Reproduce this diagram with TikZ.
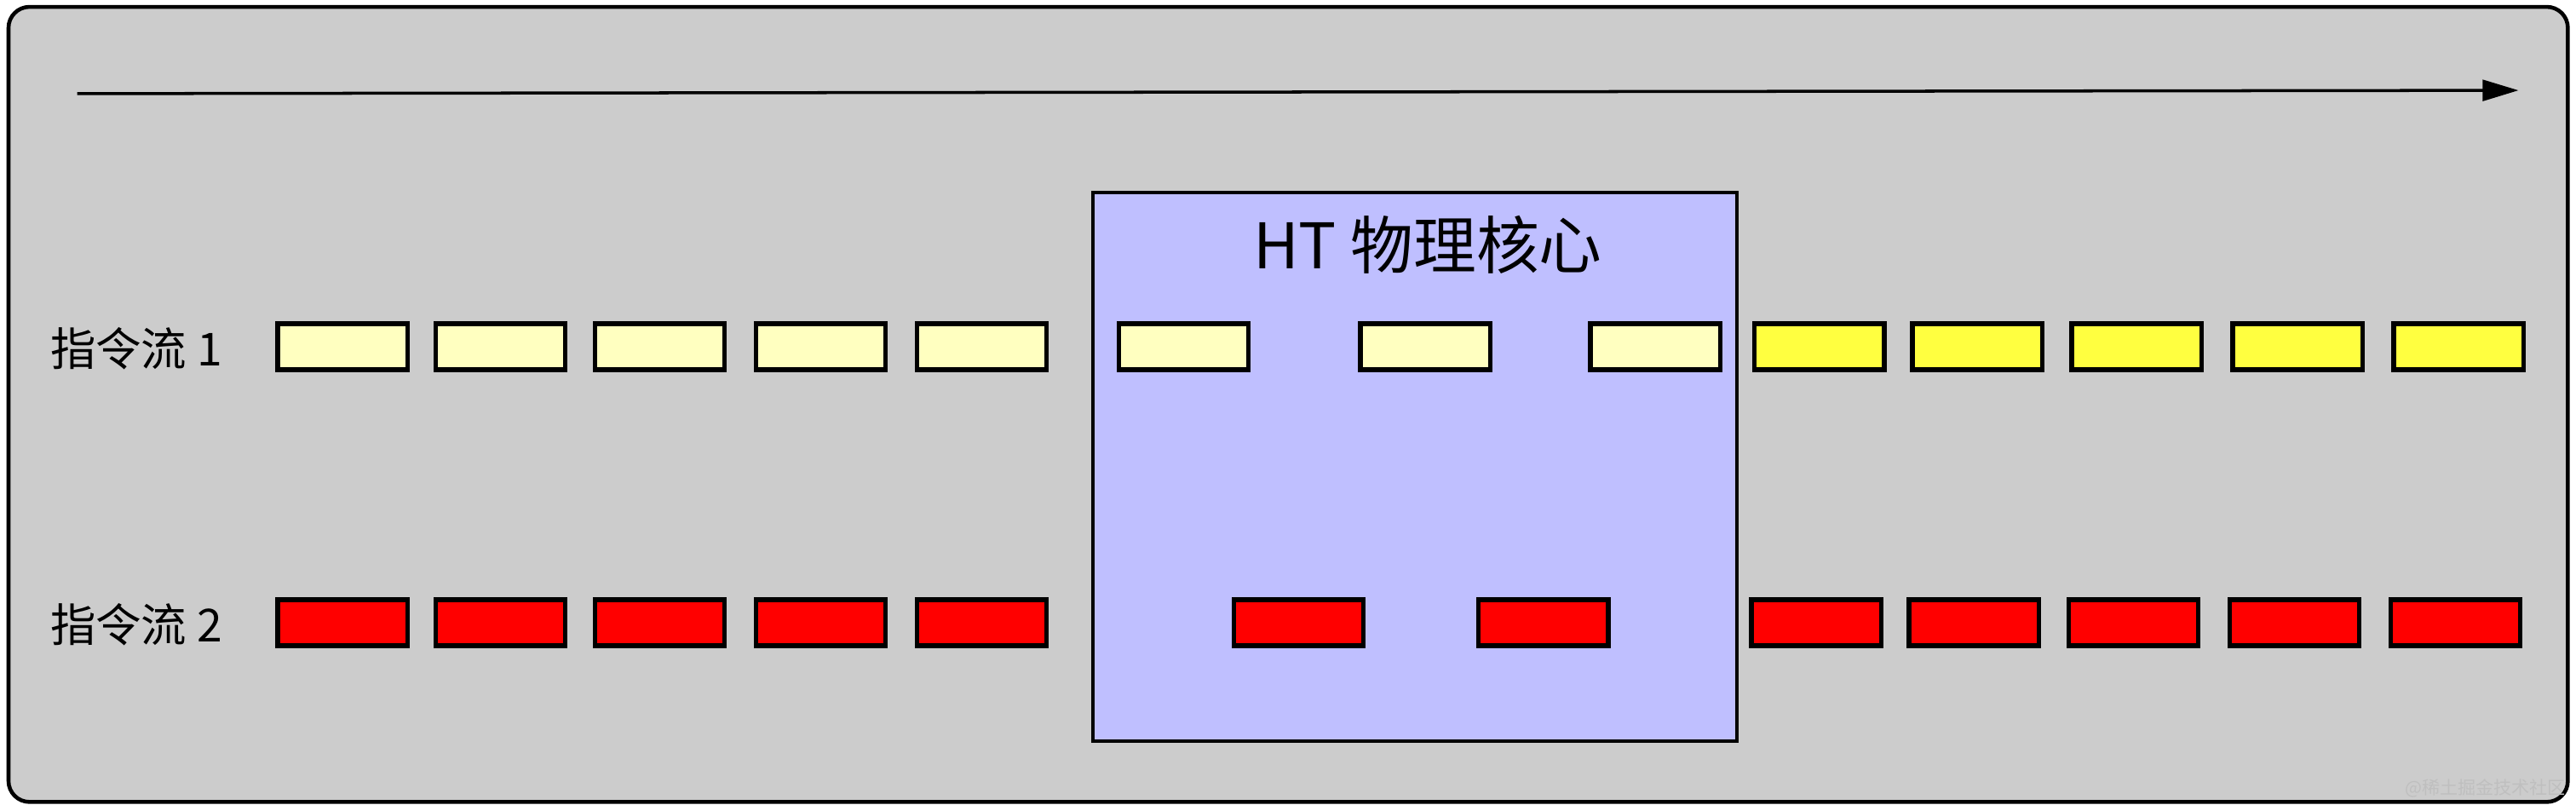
\documentclass[tikz,border=0pt]{standalone}
\usepackage{fontspec}
\setmainfont{Noto Sans CJK SC}
\usetikzlibrary{arrows.meta}
\definecolor{bggray}{HTML}{CCCCCC}
\definecolor{coreblue}{HTML}{BFBFFF}
\definecolor{paleyel}{HTML}{FFFFC0}
\definecolor{brightyel}{HTML}{FFFF40}
\definecolor{instred}{HTML}{FF0000}
\tikzset{
  instbox/.style={draw=black, line width=1.5pt, minimum width=43.3pt, minimum height=15.4pt, inner sep=0pt, outer sep=0pt},
  pale/.style={instbox, fill=paleyel},
  bright/.style={instbox, fill=brightyel},
  redbox/.style={instbox, fill=instred},
  lbl/.style={font=\fontsize{15.2pt}{18pt}\selectfont, inner sep=0pt},
}
\begin{document}
\begin{tikzpicture}[x=0.019286cm, y=-0.019286cm]
\useasboundingbox (0,0) rectangle (1568,490);
\node[draw=black, line width=1.3pt, fill=bggray, rounded corners=7pt, minimum width=(1558*0.5487pt), minimum height=(484*0.5487pt), inner sep=0pt, anchor=north west] (frame) at (4,3) {};
\coordinate (as) at (47,57);
\coordinate (ae) at (1533,55);
\draw[line width=1pt, -{Triangle[length=12pt, width=7pt]}] (as) -- (ae);
\node[draw=black, line width=1.3pt, fill=coreblue, minimum width=(392*0.5487pt), minimum height=(334*0.5487pt), inner sep=0pt, anchor=north west] (core) at (664,116) {};
\node[font=\fontsize{21pt}{25pt}\selectfont, inner sep=0pt] (title) at (869,149) {HT 物理核心};
\node[lbl] (l1) at (83,212) {指令流 1};
\node[lbl] (l2) at (83,380) {指令流 2};
% row 1
\node[pale] (a1) at (208.5,211) {};
\node[pale] (a2) at (304.5,211) {};
\node[pale] (a3) at (401.5,211) {};
\node[pale] (a4) at (499.5,211) {};
\node[pale] (a5) at (597.5,211) {};
\node[pale] (a6) at (720.5,211) {};
\node[pale] (a7) at (867.5,211) {};
\node[pale] (a8) at (1007.5,211) {};
\node[bright] (a9) at (1107.5,211) {};
\node[bright] (a10) at (1203.5,211) {};
\node[bright] (a11) at (1300.5,211) {};
\node[bright] (a12) at (1398.5,211) {};
\node[bright] (a13) at (1496.5,211) {};
% row 2
\node[redbox] (b1) at (208.5,379) {};
\node[redbox] (b2) at (304.5,379) {};
\node[redbox] (b3) at (401.5,379) {};
\node[redbox] (b4) at (499.5,379) {};
\node[redbox] (b5) at (597.5,379) {};
\node[redbox] (b6) at (790.5,379) {};
\node[redbox] (b7) at (939.5,379) {};
\node[redbox] (b8) at (1105.5,379) {};
\node[redbox] (b9) at (1201.5,379) {};
\node[redbox] (b10) at (1298.5,379) {};
\node[redbox] (b11) at (1396.5,379) {};
\node[redbox] (b12) at (1494.5,379) {};
\node[text=black!25, font=\fontsize{6pt}{7pt}\selectfont, inner sep=0pt, anchor=east] (wm) at (1562,480) {@稀土掘金技术社区};
\end{tikzpicture}
\end{document}
